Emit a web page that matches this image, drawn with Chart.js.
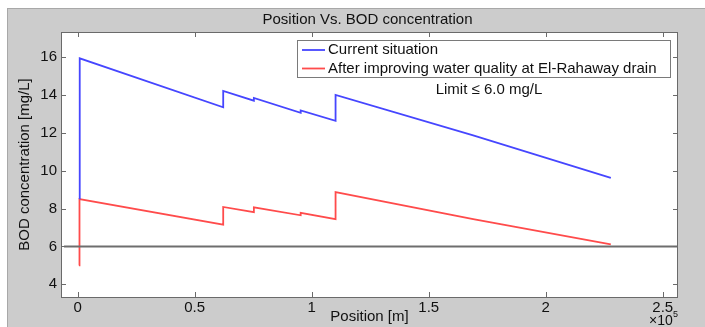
<!DOCTYPE html>
<html>
<head>
<meta charset="utf-8">
<script src="https://cdn.jsdelivr.net/npm/chart.js@4"></script>
<style>
  html, body { margin: 0; padding: 0; background: #fff; }
  #wrap { width: 705px; height: 327px; position: relative; }
</style>
</head>
<body>
<div id="wrap"><canvas id="bodChart"></canvas></div>
<script>
// Data (position in m, BOD in mg/L)
const positions = [600, 800, 62200, 62200, 75300, 75300, 95300, 95300, 110200, 110200, 169000, 227800];
const currentPositions = [900, 900, 62200, 62200, 75300, 75300, 95300, 95300, 110200, 110200, 169000, 227800];
const currentBOD = [8.5, 15.95, 13.36, 14.22, 13.71, 13.85, 13.07, 13.19, 12.64, 14.01, 11.87, 9.63];
const improvedBOD = [5.0, 8.51, 7.16, 8.09, 7.81, 8.07, 7.65, 7.78, 7.44, 8.87, 7.45, 6.11];
const limitX = [-5800, 256500];
const limitY = [6, 6];
const xTicks = [0, 50000, 100000, 150000, 200000, 250000];
const yTicks = [4, 6, 8, 10, 12, 14, 16];
const seriesNames = ['Current situation', 'After improving water quality at El-Rahaway drain'];

const FONT = '"Liberation Sans", Arial, sans-serif';
const BLUE = 'rgb(70,70,255)';
const RED = 'rgb(255,75,75)';

function toPoints(xs, ys) {
    return xs.map((x, i) => ({ x: x, y: ys[i] }));
}

// Gray figure background, white axes, box, inward ticks, legend and notes
const figurePlugin = {
    id: 'figure',
    beforeDraw(chart) {
        const ctx = chart.ctx;
        const a = chart.chartArea;
        ctx.save();
        ctx.fillStyle = '#fff';
        ctx.fillRect(0, 0, chart.width, chart.height);
        ctx.fillStyle = '#cccccc';
        ctx.fillRect(7, 8, chart.width - 7, chart.height - 8);
        ctx.strokeStyle = '#a8a8a8';
        ctx.lineWidth = 1;
        ctx.strokeRect(7.5, 8.5, chart.width, chart.height);
        ctx.fillStyle = '#fff';
        ctx.fillRect(a.left, a.top, a.right - a.left, a.bottom - a.top);
        ctx.restore();
    },
    afterDraw(chart) {
        const ctx = chart.ctx;
        const a = chart.chartArea;
        const xs = chart.scales.x;
        const ys = chart.scales.y;
        ctx.save();
        ctx.strokeStyle = '#6a6a6a';
        ctx.lineWidth = 1;
        ctx.beginPath();
        xs.ticks.forEach(t => {
            const px = Math.round(xs.getPixelForValue(t.value)) + 0.5;
            ctx.moveTo(px, a.bottom); ctx.lineTo(px, a.bottom - 5);
            ctx.moveTo(px, a.top); ctx.lineTo(px, a.top + 5);
        });
        ys.ticks.forEach(t => {
            const py = Math.round(ys.getPixelForValue(t.value)) + 0.5;
            ctx.moveTo(a.left, py); ctx.lineTo(a.left + 5, py);
            ctx.moveTo(a.right, py); ctx.lineTo(a.right - 5, py);
        });
        ctx.stroke();
        ctx.strokeRect(a.left + 0.5, a.top + 0.5, a.right - a.left - 1, a.bottom - a.top);

        // Title
        ctx.fillStyle = '#111';
        ctx.font = '15px ' + FONT;
        ctx.textAlign = 'center';
        ctx.textBaseline = 'middle';
        ctx.fillText('Position Vs. BOD concentration', (a.left + a.right) / 2 - 2, 20);

        // Exponent label
        ctx.textAlign = 'left';
        ctx.font = '14px ' + FONT;
        ctx.fillText('\u00d710', 649, 321);
        ctx.font = '9px ' + FONT;
        ctx.fillText('5', 673, 315);

        // Limit note
        ctx.font = '15px ' + FONT;
        ctx.textAlign = 'center';
        ctx.fillText('Limit \u2264 6.0 mg/L', 489, 90);

        // Legend
        const lx = 297, ly = 40, lw = 373, lh = 37;
        ctx.fillStyle = '#fff';
        ctx.fillRect(lx, ly, lw, lh);
        ctx.strokeStyle = '#7a7a7a';
        ctx.strokeRect(lx + 0.5, ly + 0.5, lw, lh);
        const colors = [BLUE, RED];
        ctx.textAlign = 'left';
        seriesNames.forEach((name, i) => {
            const yy = ly + 10 + i * 18.5;
            ctx.strokeStyle = colors[i];
            ctx.lineWidth = 1.8;
            ctx.beginPath();
            ctx.moveTo(lx + 5, yy); ctx.lineTo(lx + 28, yy);
            ctx.stroke();
            ctx.fillStyle = '#111';
            ctx.fillText(name, lx + 31, yy);
        });
        ctx.restore();
    }
};

const ctx = document.getElementById('bodChart').getContext('2d');
new Chart(ctx, {
    type: 'line',
    data: {
        datasets: [{
            label: 'Limit',
            data: toPoints(limitX, limitY),
            borderColor: '#6e6e6e',
            borderWidth: 2,
            pointRadius: 0
        }, {
            label: seriesNames[0],
            data: toPoints(currentPositions, currentBOD),
            borderColor: BLUE,
            borderWidth: 1.8,
            pointRadius: 0
        }, {
            label: seriesNames[1],
            data: toPoints(positions, improvedBOD),
            borderColor: RED,
            borderWidth: 1.8,
            pointRadius: 0
        }]
    },
    options: {
        responsive: true,
        maintainAspectRatio: false,
        animation: false,
        devicePixelRatio: 1,
        layout: { padding: { left: 0, right: 27, top: 32, bottom: 0 } },
        plugins: {
            legend: { display: false },
            tooltip: { enabled: false }
        },
        elements: { line: { tension: 0 } },
        scales: {
            x: {
                type: 'linear',
                min: -7100,
                max: 256500,
                afterBuildTicks: scale => { scale.ticks = xTicks.map(v => ({ value: v })); },
                afterFit: scale => { scale.height = 30; },
                grid: { display: false, drawTicks: false },
                border: { display: false },
                ticks: {
                    padding: 2,
                    maxRotation: 0,
                    color: '#111',
                    font: { family: FONT, size: 15 },
                    callback: v => String(v / 100000)
                },
                title: {
                    display: true,
                    text: 'Position [m]',
                    color: '#111',
                    font: { family: FONT, size: 15 },
                    padding: { top: 0, bottom: 1 }
                }
            },
            y: {
                min: 3.33,
                max: 17.34,
                afterBuildTicks: scale => { scale.ticks = yTicks.map(v => ({ value: v })); },
                afterFit: scale => { scale.width = 61; },
                grid: { display: false, drawTicks: false },
                border: { display: false },
                ticks: {
                    padding: 4,
                    color: '#111',
                    font: { family: FONT, size: 15 }
                },
                title: {
                    display: true,
                    text: 'BOD concentration [mg/L]',
                    color: '#111',
                    font: { family: FONT, size: 15 },
                    padding: { top: 16, bottom: 0 }
                }
            }
        }
    },
    plugins: [figurePlugin]
});
</script>
</body>
</html>
